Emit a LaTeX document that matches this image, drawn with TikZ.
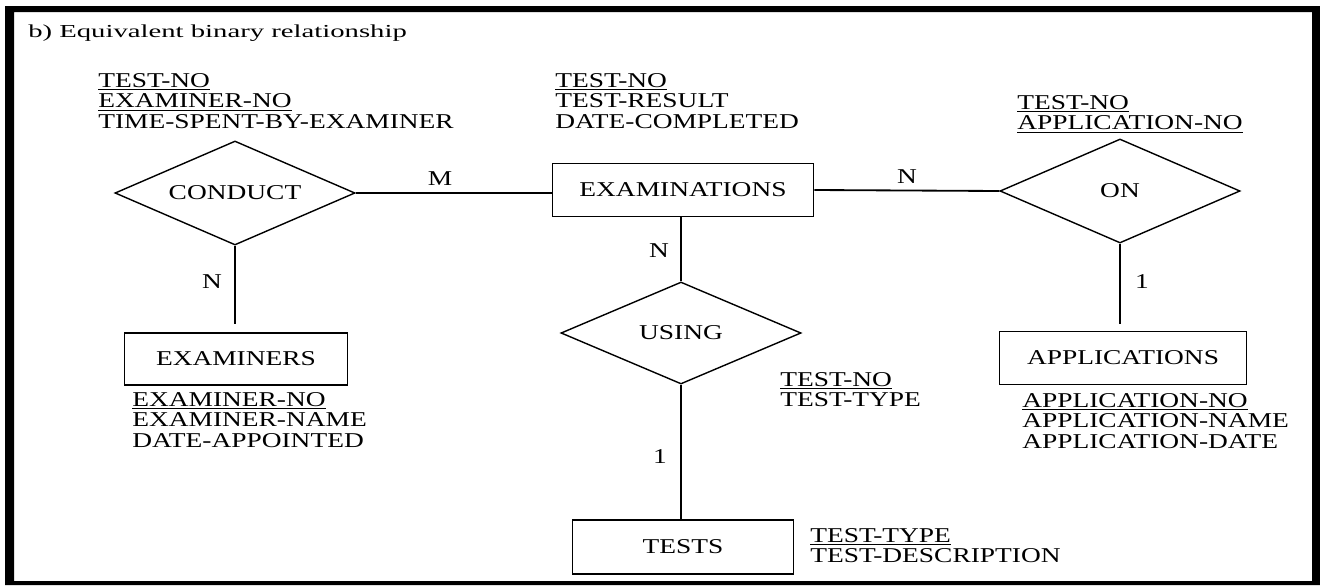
\documentclass[tikz,border=0pt]{standalone}
\usepackage{fontspec}
\setmainfont{Liberation Serif}[FakeStretch=1.3]
\newfontfamily\titelfont{Liberation Serif}[FakeStretch=1.57]
\usetikzlibrary{shapes.geometric}
\newcommand{\schrift}{\fontsize{15}{14.6}\selectfont}
\newcommand{\schluessel}[1]{\underline{#1}}

\begin{document}
\begin{tikzpicture}[x=0.025cm, y=-0.025cm,
    entitaet/.style={draw, line width=1.3pt, inner sep=0pt, font=\schrift},
    beziehung/.style={draw, diamond, line width=1pt, aspect=2.3, inner sep=0pt,
        minimum width=6cm, minimum height=2.6cm, font=\schrift},
    attribut/.style={anchor=north west, inner sep=0pt, align=left, font=\schrift},
    kard/.style={inner sep=0pt, font=\schrift},
    linie/.style={line width=1.3pt}]
    \useasboundingbox (0,0) rectangle (1320,585);
    % Rahmen:
    \fill[even odd rule] (5,6) rectangle (1320,585) (14,12) rectangle (1312,581);
    \node[anchor=north west, inner sep=0pt, font=\titelfont\fontsize{13}{15}\selectfont] (titel) at (28,25) {b) Equivalent binary relationship};
    % Entitaeten:
    \node[entitaet, minimum width=6.525cm, minimum height=1.325cm] (examinations) at (683,190) {EXAMINATIONS};
    \node[entitaet, minimum width=5.575cm, minimum height=1.3cm] (examiners) at (236,359) {EXAMINERS};
    \node[entitaet, minimum width=6.175cm, minimum height=1.325cm] (applications) at (1123,358) {APPLICATIONS};
    \node[entitaet, minimum width=5.525cm, minimum height=1.35cm] (tests) at (683,547) {TESTS};
    % Beziehungen:
    \node[beziehung] (conduct) at (235,193) {CONDUCT};
    \node[beziehung] (on) at (1120,191) {ON};
    \node[beziehung, minimum height=2.55cm] (using) at (681,333) {USING};
    % Attribute:
    \node[attribut] (conductattr) at (98,73) {\schluessel{TEST-NO}\\ \schluessel{EXAMINER-NO}\\ TIME-SPENT-BY-EXAMINER};
    \node[attribut] (examattr) at (555,73) {\schluessel{TEST-NO}\\ TEST-RESULT\\ DATE-COMPLETED};
    \node[attribut] (onattr) at (1017,95) {\schluessel{TEST-NO}\\ \schluessel{APPLICATION-NO}};
    \node[attribut] (examinersattr) at (132,392) {\schluessel{EXAMINER-NO}\\ EXAMINER-NAME\\ DATE-APPOINTED};
    \node[attribut] (appattr) at (1022,393) {\schluessel{APPLICATION-NO}\\ APPLICATION-NAME\\ APPLICATION-DATE};
    \node[attribut] (usingattr) at (780,372) {\schluessel{TEST-NO}\\ TEST-TYPE};
    \node[attribut] (testsattr) at (810,528) {\schluessel{TEST-TYPE}\\ TEST-DESCRIPTION};
    % Linien:
    \draw[linie] (conduct.east) -- (conduct.east -| examinations.west);
    \draw[linie] (examinations.east) -- (on.west);
    \draw[linie, shorten >=6pt] (conduct.south) -- (conduct.south |- examiners.north);
    \draw[linie] (using.north) -- (using.north |- examinations.south);
    \draw[linie] (using.south) -- (using.south |- tests.north);
    \draw[linie, shorten >=5pt] (on.south) -- (on.south |- applications.north);
    % Kardinalitaeten:
    \node[kard] (mconduct) at (440,179) {M};
    \node[kard] (non) at (907,177) {N};
    \node[kard] (nexaminers) at (212,282) {N};
    \node[kard] (nusing) at (659,251) {N};
    \node[kard] (einsapp) at (1142,282) {1};
    \node[kard] (einstests) at (660,457) {1};
\end{tikzpicture}
\end{document}
